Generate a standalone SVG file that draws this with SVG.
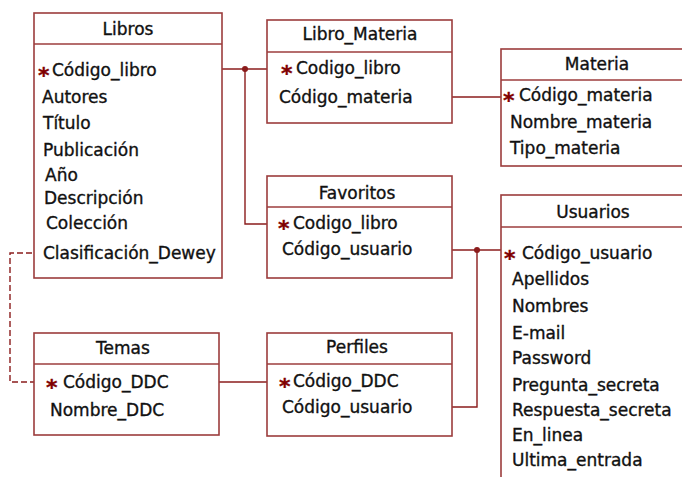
<svg xmlns="http://www.w3.org/2000/svg" width="682" height="477" viewBox="0 0 682 477">
<style>
.box{fill:#fff;stroke:#9c3c3c;stroke-width:1.6}
.sep{stroke:#9c3c3c;stroke-width:1.6}
text{font-family:"DejaVu Sans",sans-serif;font-size:17px;fill:#111;stroke:#111;stroke-width:0.35}
.t{text-anchor:middle}
.star{fill:#800000;stroke:#800000;font-size:22px;font-weight:bold}
.ln{fill:none;stroke:#8b1c1c;stroke-width:1.4}
.dash{fill:none;stroke:#8b1c1c;stroke-width:1.4;stroke-dasharray:6 3}
.dot{fill:#8b1c1c}
</style>
<rect width="682" height="477" fill="#fff"/>
<g id="connectors">
<path class="ln" d="M168 69 H275"/>
<path class="ln" d="M245 69 V224 H275"/>
<circle class="dot" cx="245" cy="69" r="3"/>
<path class="ln" d="M412 97 H504"/>
<path class="ln" d="M413 250 H505"/>
<path class="ln" d="M415 407 H477 V250"/>
<circle class="dot" cx="477" cy="250" r="3"/>
<path class="ln" d="M173 382 H275"/>
<path class="dash" d="M41 253 H10 V382 H47"/>
</g>
<g id="libros">
<rect class="box" x="34" y="13" width="188" height="265"/>
<line class="sep" x1="34" y1="44" x2="222" y2="44"/>
<text class="t" x="128" y="35">Libros</text>
<text class="star" x="38" y="83">*</text>
<text x="52" y="76">Código_libro</text>
<text x="42" y="103">Autores</text>
<text x="43" y="129">Título</text>
<text x="43" y="156">Publicación</text>
<text x="45" y="181">Año</text>
<text x="44" y="204">Descripción</text>
<text x="46" y="229">Colección</text>
<text x="43" y="259">Clasificación_Dewey</text>
</g>
<g id="libro_materia">
<rect class="box" x="267" y="20" width="185" height="103"/>
<line class="sep" x1="267" y1="52" x2="452" y2="52"/>
<text class="t" x="360" y="40">Libro_Materia</text>
<text class="star" x="281" y="81">*</text>
<text x="296" y="74">Codigo_libro</text>
<text x="279" y="103">Código_materia</text>
</g>
<g id="materia">
<rect class="box" x="501" y="49" width="190" height="117"/>
<line class="sep" x1="501" y1="80" x2="691" y2="80"/>
<text class="t" x="597" y="70">Materia</text>
<text class="star" x="503" y="108">*</text>
<text x="519" y="101">Código_materia</text>
<text x="510" y="128">Nombre_materia</text>
<text x="510" y="154">Tipo_materia</text>
</g>
<g id="favoritos">
<rect class="box" x="267" y="176" width="185" height="102"/>
<line class="sep" x1="267" y1="207" x2="452" y2="207"/>
<text class="t" x="357" y="199">Favoritos</text>
<text class="star" x="278" y="236">*</text>
<text x="293" y="229">Codigo_libro</text>
<text x="282" y="255">Código_usuario</text>
</g>
<g id="usuarios">
<rect class="box" x="501" y="195" width="190" height="295"/>
<line class="sep" x1="501" y1="227" x2="691" y2="227"/>
<text class="t" x="593" y="218">Usuarios</text>
<text class="star" x="504" y="266">*</text>
<text x="522" y="259">Código_usuario</text>
<text x="512" y="285">Apellidos</text>
<text x="512" y="312">Nombres</text>
<text x="512" y="339">E-mail</text>
<text x="512" y="364">Password</text>
<text x="512" y="391">Pregunta_secreta</text>
<text x="512" y="416">Respuesta_secreta</text>
<text x="512" y="441">En_linea</text>
<text x="512" y="466">Ultima_entrada</text>
</g>
<g id="temas">
<rect class="box" x="34" y="333" width="185" height="102"/>
<line class="sep" x1="34" y1="364" x2="219" y2="364"/>
<text class="t" x="123" y="354">Temas</text>
<text class="star" x="46" y="395">*</text>
<text x="63" y="388">Código_DDC</text>
<text x="50" y="416">Nombre_DDC</text>
</g>
<g id="perfiles">
<rect class="box" x="267" y="333" width="185" height="103"/>
<line class="sep" x1="267" y1="364" x2="452" y2="364"/>
<text class="t" x="357" y="353">Perfiles</text>
<text class="star" x="279" y="394">*</text>
<text x="293" y="387">Código_DDC</text>
<text x="282" y="413">Código_usuario</text>
</g>
</svg>
